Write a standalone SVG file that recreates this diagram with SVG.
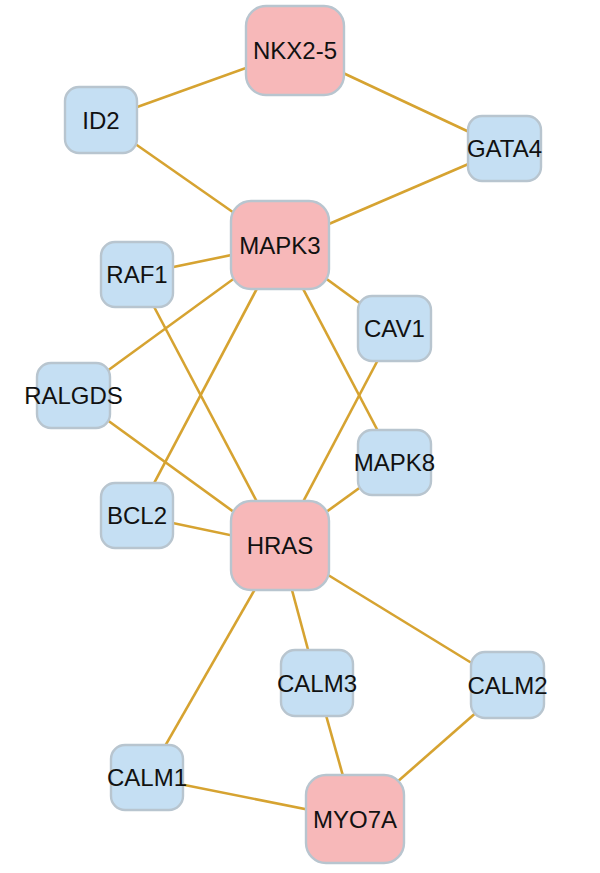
<svg xmlns="http://www.w3.org/2000/svg" width="600" height="873" viewBox="0 0 600 873">
<style>
.e{stroke:#d6a331;stroke-width:2.6;fill:none}
.b{fill:#c5dff3;stroke:#b8c5cf;stroke-width:2.4}
.p{fill:#f7b8b9;stroke:#b8c5cf;stroke-width:2.4}
text{font-family:"Liberation Sans",Arial,sans-serif;font-size:24px;fill:#111;text-anchor:middle}
</style>
<rect width="600" height="873" fill="#fff"/>
<g id="edges">
<line class="e" x1="295" y1="50.5" x2="101" y2="120"/>
<line class="e" x1="295" y1="50.5" x2="504.5" y2="148.5"/>
<line class="e" x1="101" y1="120" x2="280" y2="245"/>
<line class="e" x1="504.5" y1="148.5" x2="280" y2="245"/>
<line class="e" x1="280" y1="245" x2="137" y2="274.5"/>
<line class="e" x1="280" y1="245" x2="73.5" y2="395.5"/>
<line class="e" x1="280" y1="245" x2="137" y2="515.5"/>
<line class="e" x1="280" y1="245" x2="394.5" y2="328.5"/>
<line class="e" x1="280" y1="245" x2="394.5" y2="462.5"/>
<line class="e" x1="137" y1="274.5" x2="280" y2="545.5"/>
<line class="e" x1="73.5" y1="395.5" x2="280" y2="545.5"/>
<line class="e" x1="137" y1="515.5" x2="280" y2="545.5"/>
<line class="e" x1="394.5" y1="328.5" x2="280" y2="545.5"/>
<line class="e" x1="394.5" y1="462.5" x2="280" y2="545.5"/>
<line class="e" x1="280" y1="545.5" x2="147" y2="777.5"/>
<line class="e" x1="280" y1="545.5" x2="317" y2="683"/>
<line class="e" x1="280" y1="545.5" x2="507.5" y2="685"/>
<line class="e" x1="317" y1="683" x2="355" y2="819"/>
<line class="e" x1="507.5" y1="685" x2="355" y2="819"/>
<line class="e" x1="147" y1="777.5" x2="355" y2="819"/>
</g>
<g id="NKX2-5"><rect class="p" x="246" y="6" width="98" height="89" rx="20"/><text x="295" y="59">NKX2-5</text></g>
<g id="MAPK3"><rect class="p" x="231" y="201" width="98" height="88" rx="20"/><text x="280" y="253.5">MAPK3</text></g>
<g id="HRAS"><rect class="p" x="231" y="501" width="98" height="89" rx="20"/><text x="280" y="554">HRAS</text></g>
<g id="MYO7A"><rect class="p" x="306" y="775" width="98" height="88" rx="20"/><text x="355" y="827.5">MYO7A</text></g>
<g id="ID2"><rect class="b" x="65" y="87" width="72" height="66" rx="14"/><text x="101" y="128.5">ID2</text></g>
<g id="GATA4"><rect class="b" x="468" y="116" width="73" height="65" rx="14"/><text x="504.5" y="157">GATA4</text></g>
<g id="RAF1"><rect class="b" x="101" y="242" width="72" height="65" rx="14"/><text x="137" y="283">RAF1</text></g>
<g id="CAV1"><rect class="b" x="358" y="296" width="73" height="65" rx="14"/><text x="394.5" y="337">CAV1</text></g>
<g id="RALGDS"><rect class="b" x="37" y="363" width="73" height="65" rx="14"/><text x="73.5" y="404">RALGDS</text></g>
<g id="MAPK8"><rect class="b" x="358" y="430" width="73" height="65" rx="14"/><text x="394.5" y="471">MAPK8</text></g>
<g id="BCL2"><rect class="b" x="101" y="483" width="72" height="65" rx="14"/><text x="137" y="524">BCL2</text></g>
<g id="CALM3"><rect class="b" x="281" y="650" width="72" height="66" rx="14"/><text x="317" y="691.5">CALM3</text></g>
<g id="CALM2"><rect class="b" x="471" y="652" width="73" height="66" rx="14"/><text x="507.5" y="693.5">CALM2</text></g>
<g id="CALM1"><rect class="b" x="111" y="745" width="72" height="65" rx="14"/><text x="147" y="786">CALM1</text></g>
</svg>
